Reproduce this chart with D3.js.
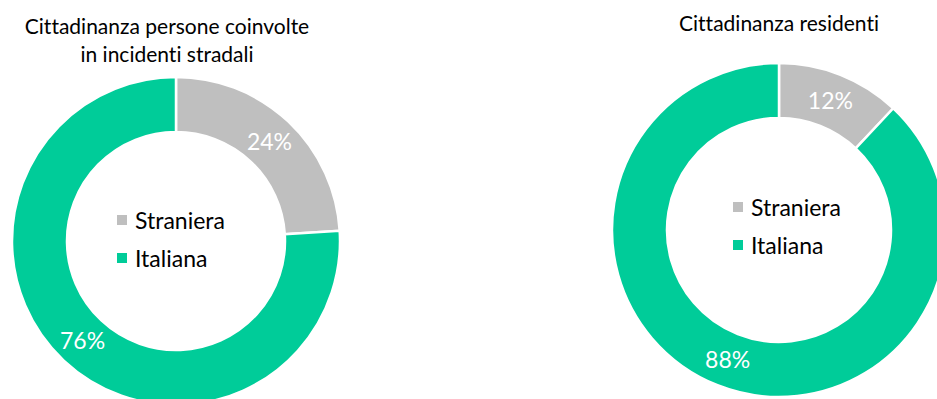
<!DOCTYPE html>
<html>
<head>
<meta charset="utf-8">
<script src="https://cdn.jsdelivr.net/npm/d3@7"></script>
<style>
  html, body { margin: 0; padding: 0; background: #fff; }
  svg { display: block; font-family: Lato, "Open Sans", sans-serif; font-variant-ligatures: none; }
</style>
</head>
<body>
<svg id="chart" width="937" height="399"></svg>
<script>
// Categories and values (percent shares)
const categories = ["Straniera", "Italiana"];
const coinvolti = [24, 76];   // persone coinvolte in incidenti stradali
const residenti = [12, 88];   // popolazione residente
const titleCoinvolti = ["Cittadinanza persone coinvolte", "in incidenti stradali"];
const titleResidenti = ["Cittadinanza residenti"];

const color = d3.scaleOrdinal().domain(categories).range(["#BFBFBF", "#00CC99"]);

const svg = d3.select("#chart");

const panels = [
  { values: coinvolti, title: titleCoinvolti, cx: 176, cy: 241, r0: 109, r1: 164,
    titleX: 167, titleY: 34, legX: -59, legY: -12 },
  { values: residenti, title: titleResidenti, cx: 779, cy: 230, r0: 112, r1: 167,
    titleX: 779, titleY: 31, legX: -46, legY: -14 }
];

const pie = d3.pie().sort(null).value(d => d.value);

panels.forEach(p => {
  const data = categories.map((c, i) => ({ category: c, value: p.values[i] }));
  const arcs = pie(data);
  const arc = d3.arc().innerRadius(p.r0).outerRadius(p.r1);

  const g = svg.append("g").attr("transform", `translate(${p.cx},${p.cy})`);

  g.selectAll("path.slice")
    .data(arcs)
    .join("path")
    .attr("class", "slice")
    .attr("d", arc)
    .attr("fill", d => color(d.data.category))
    .attr("stroke", "#fff")
    .attr("stroke-width", 2.5);

  g.selectAll("text.pct")
    .data(arcs)
    .join("text")
    .attr("class", "pct")
    .attr("transform", d => `translate(${arc.centroid(d)})`)
    .attr("text-anchor", "middle")
    .attr("dy", "0.36em")
    .attr("fill", "#fff")
    .attr("font-size", 23)
    .text(d => d3.format(".0f")(d.data.value) + "%");

  // legend inside the hole
  const leg = g.append("g").attr("transform", `translate(${p.legX},${p.legY})`);
  categories.forEach((c, i) => {
    const row = leg.append("g").attr("transform", `translate(0,${i * 38})`);
    row.append("rect").attr("x", 0).attr("y", -14).attr("width", 10).attr("height", 10)
      .attr("fill", color(c));
    row.append("text").attr("x", 18).attr("y", 0)
      .attr("font-size", 23).attr("fill", "#000").text(c);
  });

  // title
  svg.append("text")
    .attr("x", p.titleX).attr("y", p.titleY)
    .attr("text-anchor", "middle")
    .attr("font-size", 21)
    .attr("fill", "#000")
    .selectAll("tspan")
    .data(p.title)
    .join("tspan")
    .attr("x", p.titleX)
    .attr("dy", (d, i) => i === 0 ? 0 : 28)
    .text(d => d);
});
</script>
</body>
</html>
